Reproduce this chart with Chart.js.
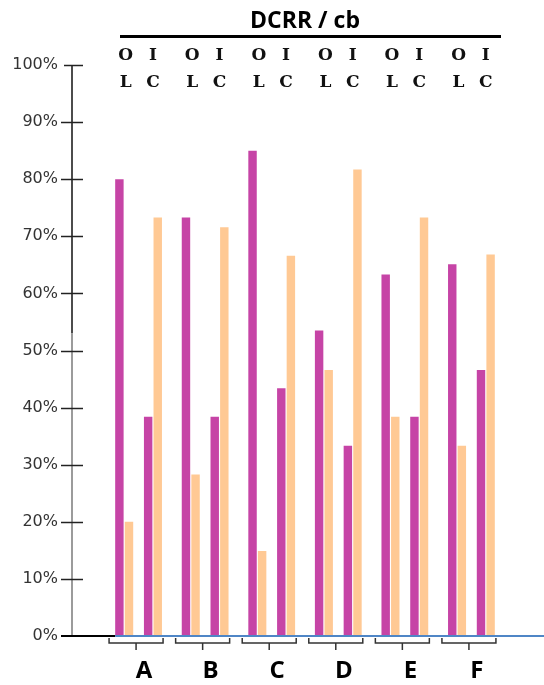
<!DOCTYPE html>
<html>
<head>
<meta charset="utf-8">
<script src="https://cdn.jsdelivr.net/npm/chart.js@4/dist/chart.umd.min.js"></script>
<style>
    html, body { margin: 0; padding: 0; background: #fff; }
    canvas { display: block; }
</style>
</head>
<body>
<canvas id="chart" width="544" height="685"></canvas>
<script>
const groups = ['A', 'B', 'C', 'D', 'E', 'F']
const pairLetters = [['O', 'L'], ['I', 'C']]
const titleText = 'DCRR / cb'

const dcrrOL = [80, 73.3, 85, 53.5, 63.3, 65.1]
const cbOL = [20, 28.3, 14.9, 46.6, 38.4, 33.3]
const dcrrIC = [38.4, 38.4, 43.4, 33.3, 38.4, 46.6]
const cbIC = [73.3, 71.6, 66.6, 81.7, 73.3, 66.8]

const MAGENTA = '#c644a6'
const PEACH = '#ffc994'

// blank slot either side so the groups sit where the original had them
const labels = ['', ...groups, '']
const pad = values => [null, ...values, null]

class BarSetBuilder {
    constructor(label, data = [], color = 'transparent') {
        this.label = label
        this.data = data
        this.color = color
    }
    build() {
        return {
            label: this.label,
            data: this.data,
            backgroundColor: this.color,
            borderWidth: 0,
            categoryPercentage: 0.72,
            barPercentage: 0.88
        }
    }
}

const decorations = {
    id: 'decorations',
    afterDraw(chart) {
        const { ctx, scales } = chart
        const x = scales.x, y = scales.y
        const base = y.getPixelForValue(0)
        const top = y.getPixelForValue(100)
        ctx.save()

        // y axis line, darker above, grey below
        const split = y.getPixelForValue(53)
        ctx.lineWidth = 1.5
        ctx.strokeStyle = '#111'
        ctx.beginPath(); ctx.moveTo(72, top); ctx.lineTo(72, split); ctx.stroke()
        ctx.strokeStyle = '#7a7a7a'
        ctx.beginPath(); ctx.moveTo(72, split); ctx.lineTo(72, base); ctx.stroke()

        // tick marks across the axis
        ctx.strokeStyle = '#222'
        for (let v = 10; v <= 100; v += 10) {
            const py = Math.round(y.getPixelForValue(v)) + 0.5
            ctx.beginPath()
            ctx.moveTo(v === 100 ? 64 : 61, py)
            ctx.lineTo(83, py)
            ctx.stroke()
        }

        // baseline: black near the axis, blue under the bars
        const firstBar = chart.getDatasetMeta(0).data[1]
        const split2 = firstBar.x - firstBar.width / 2
        ctx.lineWidth = 2
        ctx.strokeStyle = '#000'
        ctx.beginPath(); ctx.moveTo(61, base); ctx.lineTo(split2, base); ctx.stroke()
        ctx.strokeStyle = '#4f86c6'
        ctx.beginPath(); ctx.moveTo(split2, base); ctx.lineTo(chart.width, base); ctx.stroke()

        // brackets and group labels
        ctx.lineWidth = 1.5
        ctx.strokeStyle = '#333'
        ctx.fillStyle = '#000'
        ctx.font = 'bold 24px "Open Sans"'
        ctx.textAlign = 'center'
        ctx.textBaseline = 'middle'
        groups.forEach((g, i) => {
            const cx = x.getPixelForValue(i + 1) - 2.5
            ctx.beginPath()
            ctx.moveTo(cx - 27, 638)
            ctx.lineTo(cx - 27, 643)
            ctx.lineTo(cx + 27, 643)
            ctx.lineTo(cx + 27, 638)
            ctx.moveTo(cx, 643)
            ctx.lineTo(cx, 650)
            ctx.stroke()
            ctx.fillText(g, cx + 8, 671)
        })

        // header: title, rule, and pair letters
        ctx.font = 'bold 23px "Open Sans"'
        ctx.textBaseline = 'alphabetic'
        ctx.fillText(titleText, 305, 28)
        ctx.lineWidth = 3
        ctx.strokeStyle = '#000'
        ctx.beginPath(); ctx.moveTo(120, 36.5); ctx.lineTo(501, 36.5); ctx.stroke()

        ctx.font = 'bold 17px "DejaVu Serif"'
        ctx.textBaseline = 'middle'
        ctx.fillStyle = '#111'
        const m0 = chart.getDatasetMeta(0), m1 = chart.getDatasetMeta(1)
        const m3 = chart.getDatasetMeta(3), m4 = chart.getDatasetMeta(4)
        groups.forEach((g, i) => {
            const p1 = (m0.data[i + 1].x + m1.data[i + 1].x) / 2 + 1.5
            const p2 = (m3.data[i + 1].x + m4.data[i + 1].x) / 2
            ctx.fillText(pairLetters[0][0], p1, 56)
            ctx.fillText(pairLetters[0][1], p1, 83)
            ctx.fillText(pairLetters[1][0], p2, 56)
            ctx.fillText(pairLetters[1][1], p2, 83)
        })
        ctx.restore()
    }
}

new Chart(document.getElementById('chart'), {
    type: 'bar',
    data: {
        labels: labels,
        datasets: [
            new BarSetBuilder('DCRR OL', pad(dcrrOL), MAGENTA).build(),
            new BarSetBuilder('cb OL', pad(cbOL), PEACH).build(),
            new BarSetBuilder('', []).build(), // gap between the pairs
            new BarSetBuilder('DCRR IC', pad(dcrrIC), MAGENTA).build(),
            new BarSetBuilder('cb IC', pad(cbIC), PEACH).build()
        ]
    },
    options: {
        responsive: false,
        devicePixelRatio: 1,
        animation: false,
        layout: { padding: { top: 65, right: 6, bottom: 49, left: 0 } },
        plugins: { legend: { display: false }, tooltip: { enabled: false } },
        scales: {
            x: {
                display: false,
                offset: false
            },
            y: {
                min: 0,
                max: 100,
                grid: { display: false },
                border: { display: false },
                ticks: {
                    stepSize: 10,
                    padding: 6,
                    color: '#333',
                    font: { family: '"DejaVu Sans"', size: 16 },
                    callback: v => v + '%'
                },
                afterFit(scale) { scale.width = 72 }
            }
        }
    },
    plugins: [decorations]
})
</script>
</body>
</html>
